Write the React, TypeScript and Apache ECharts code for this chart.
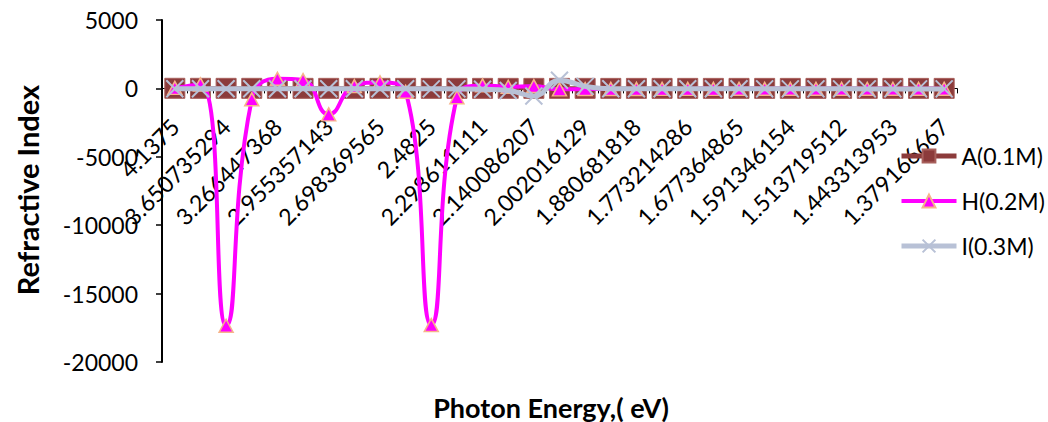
import React, { useEffect, useRef } from "react";
import * as echarts from "echarts";

// Photon energy (eV) for each measured wavelength step
const categories = [
  "4.1375", "3.87890625", "3.650735294", "3.447916667", "3.266447368", "3.103125",
  "2.955357143", "2.821022727", "2.698369565", "2.5859375", "2.4825", "2.387019231",
  "2.298611111", "2.216517857", "2.140086207", "2.06875", "2.002016129", "1.939453125",
  "1.880681818", "1.825367647", "1.773214286", "1.723958333", "1.677364865", "1.633223684",
  "1.591346154", "1.5515625", "1.513719512", "1.477678571", "1.443313953", "1.410511364",
  "1.379166667",
];

const seriesA = [
  8, 6, 5, 5, 4, 4, 3, 3, 3, 3, 2, 2, 2, 2, 2, 2,
  2, 1, 1, 1, 1, 1, 1, 1, 1, 1, 1, 1, 1, 1, 1,
];

const seriesH = [
  40, 290, -17350, -800, 700, 600, -1900, 170, 440, -250, -17300, -650, 220, 120, 170, -70,
  -45, -40, -38, -35, -35, -33, -32, -30, -30, -30, -28, -28, -27, -26, -25,
];

const seriesI = [
  -20, -20, -22, -25, -25, -28, -30, -30, -30, -30, -32, -35, -60, -150, -560, 600,
  150, -20, -25, -28, -30, -30, -30, -32, -32, -33, -33, -35, -35, -35, -35,
];

const yTicks = { min: -20000, max: 5000, interval: 5000 };

const FONT = "Lato, 'Open Sans', sans-serif";

const COLOR_A = "#8C3B3B";
const COLOR_H = "#FF00FF";
const COLOR_I = "#B8C1D6";

// plot area
const GRID = { left: 162, right: 91, top: 20, bottom: 60 };
const CHART_H = 422;

export default function App() {
  const ref = useRef<HTMLDivElement>(null);

  useEffect(() => {
    if (!ref.current) return;
    const chart = echarts.init(ref.current, undefined, { renderer: "svg" });

    // the category axis crosses the value axis at zero
    const plotH = CHART_H - GRID.top - GRID.bottom;
    const zeroFromBottom = ((0 - yTicks.min) / (yTicks.max - yTicks.min)) * plotH;

    chart.setOption({
      animation: false,
      backgroundColor: "#ffffff",
      textStyle: { fontFamily: FONT },
      grid: { ...GRID, containLabel: false, outerBoundsMode: "none" },
      legend: {
        orient: "vertical",
        left: 894,
        top: 139,
        itemWidth: 55,
        itemHeight: 16,
        itemGap: 21,
        textStyle: { fontFamily: FONT, fontSize: 23, color: "#000", lineHeight: 24 },
        data: [
          { name: "A(0.1M)", lineStyle: { width: 5, color: COLOR_A } },
          { name: "H(0.2M)", lineStyle: { width: 4, color: COLOR_H } },
          { name: "I(0.3M)", lineStyle: { width: 5, color: COLOR_I } },
        ],
      },
      xAxis: {
        type: "category",
        data: categories,
        position: "bottom",
        offset: -zeroFromBottom,
        boundaryGap: true,
        axisLine: { onZero: false, lineStyle: { color: "#000", width: 1 } },
        axisTick: { show: true, interval: 0, length: 5, lineStyle: { color: "#000" } },
        axisLabel: {
          interval: 1,
          rotate: 45,
          margin: 34,
          fontFamily: FONT,
          fontSize: 23,
          color: "#000",
        },
        splitLine: { show: false },
      },
      yAxis: {
        type: "value",
        min: yTicks.min,
        max: yTicks.max,
        interval: yTicks.interval,
        axisLine: { show: true, lineStyle: { color: "#000", width: 2 } },
        axisTick: { show: true, length: 6, lineStyle: { color: "#000", width: 1.5 } },
        axisLabel: {
          margin: 24,
          fontFamily: FONT,
          fontSize: 23,
          color: "#000",
          formatter: (v: number) => String(v),
        },
        splitLine: { show: false },
      },
      graphic: [
        {
          type: "text",
          x: 27,
          y: 190,
          rotation: Math.PI / 2,
          style: {
            text: "Refractive Index",
            fontFamily: FONT,
            fontWeight: "bold",
            fontSize: 29,
            fill: "#000",
            align: "center",
            verticalAlign: "middle",
          },
        },
        {
          type: "text",
          x: 551,
          y: 407,
          style: {
            text: "Photon Energy,( eV)",
            fontFamily: FONT,
            fontWeight: "bold",
            fontSize: 27,
            fill: "#000",
            align: "center",
            verticalAlign: "middle",
          },
        },
      ],
      series: [
        {
          name: "A(0.1M)",
          type: "line",
          data: seriesA,
          smooth: true,
          showAllSymbol: true,
          symbol: "rect",
          symbolSize: 20,
          lineStyle: { color: COLOR_A, width: 4 },
          itemStyle: { color: COLOR_A, borderColor: "#A8605C", borderWidth: 1 },
          z: 2,
        },
        {
          name: "H(0.2M)",
          type: "line",
          data: seriesH,
          smooth: true,
          showAllSymbol: true,
          symbol: "triangle",
          symbolSize: [14, 13],
          lineStyle: { color: COLOR_H, width: 4 },
          itemStyle: { color: COLOR_H, borderColor: "#F6B48A", borderWidth: 1.5 },
          z: 3,
        },
        {
          name: "I(0.3M)",
          type: "line",
          data: seriesI,
          smooth: true,
          showAllSymbol: true,
          symbol: "path://M0,0L10,10M10,0L0,10",
          symbolSize: 17,
          lineStyle: { color: COLOR_I, width: 5 },
          itemStyle: { color: COLOR_I, borderColor: COLOR_I, borderWidth: 2 },
          z: 4,
        },
      ],
    });
    return () => chart.dispose();
  }, []);

  return (
    <div
      ref={ref}
      style={{ position: "fixed", left: 0, top: 0, width: 1048, height: 422 }}
    />
  );
}
